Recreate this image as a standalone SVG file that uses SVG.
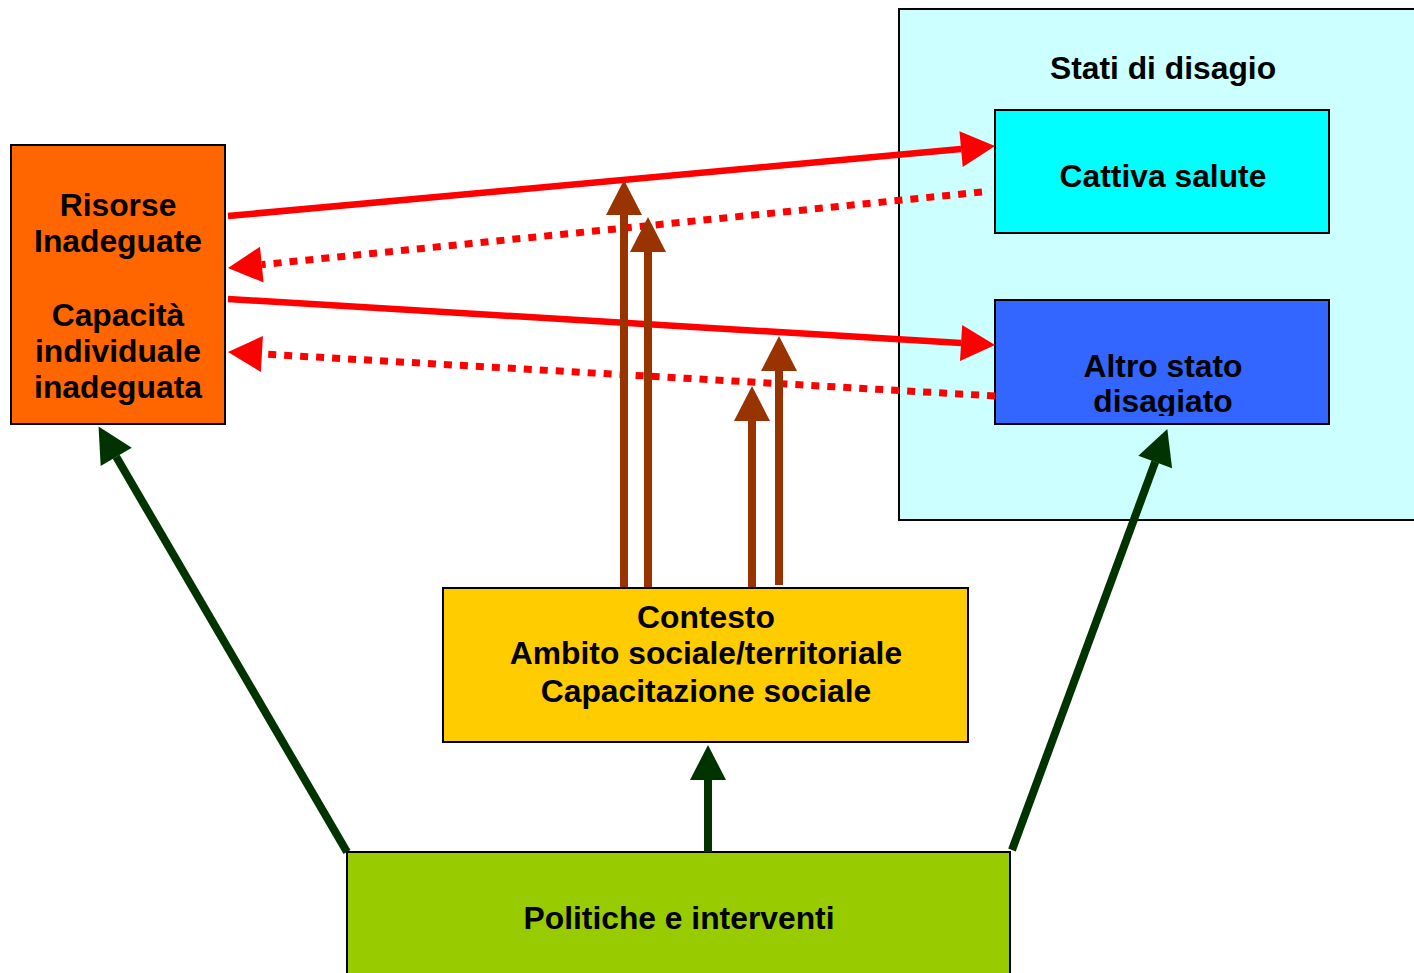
<svg xmlns="http://www.w3.org/2000/svg" width="1414" height="973" viewBox="0 0 1414 973">
<style>
.t{font-family:"Liberation Sans",Arial,sans-serif;font-weight:bold;font-size:31.8px;fill:#000;text-anchor:middle}
.box{stroke:#000;stroke-width:2}
.red{stroke:#FF0000;stroke-width:6.5;fill:none}
.dot{stroke:#FF0000;stroke-width:7;fill:none;stroke-dasharray:8 8}
.brown{stroke:#993300;stroke-width:8;fill:none}
.green{stroke:#003300;stroke-width:8;fill:none}
</style>
<defs>
<marker id="hr" markerUnits="userSpaceOnUse" orient="auto" refX="0" refY="0" markerWidth="40" markerHeight="40" overflow="visible"><path d="M0,-18 L34,0 L0,18 Z" fill="#FF0000"/></marker>
<marker id="hb" markerUnits="userSpaceOnUse" orient="auto" refX="0" refY="0" markerWidth="40" markerHeight="40" overflow="visible"><path d="M0,-18 L35,0 L0,18 Z" fill="#993300"/></marker>
<marker id="hg" markerUnits="userSpaceOnUse" orient="auto" refX="0" refY="0" markerWidth="40" markerHeight="40" overflow="visible"><path d="M0,-18 L35,0 L0,18 Z" fill="#003300"/></marker>
<clipPath id="clipAltro"><rect x="995" y="300" width="334" height="116"/></clipPath>
</defs>
<rect width="1414" height="973" fill="#FFFFFF"/>

<g id="stati-di-disagio">
<rect class="box" x="899" y="9" width="520" height="511" fill="#CCFFFF"/>
<text class="t" x="1163" y="79">Stati di disagio</text>
</g>
<g id="cattiva-salute">
<rect class="box" x="995" y="110" width="334" height="123" fill="#00FFFF"/>
<text class="t" x="1163" y="187">Cattiva salute</text>
</g>
<g id="altro-stato">
<rect class="box" x="995" y="300" width="334" height="124" fill="#3366FF"/>
<g clip-path="url(#clipAltro)">
<text class="t" x="1163" y="377">Altro stato</text>
<text class="t" x="1163" y="412">disagiato</text>
</g>
</g>
<g id="risorse">
<rect class="box" x="11" y="145" width="214" height="279" fill="#FF6600"/>
<text class="t" x="118" y="216">Risorse</text>
<text class="t" x="118" y="252">Inadeguate</text>
<text class="t" x="118" y="326">Capacità</text>
<text class="t" x="118" y="362">individuale</text>
<text class="t" x="118" y="398">inadeguata</text>
</g>
<g id="contesto">
<rect class="box" x="443" y="588" width="525" height="154" fill="#FFCC00"/>
<text class="t" x="706" y="628">Contesto</text>
<text class="t" x="706" y="664">Ambito sociale/territoriale</text>
<text class="t" x="706" y="702">Capacitazione sociale</text>
</g>
<g id="politiche">
<rect class="box" x="347" y="852" width="663" height="130" fill="#99CC00"/>
<text class="t" x="679" y="929">Politiche e interventi</text>
</g>

<g id="connectors">
<line class="red" x1="228" y1="216" x2="961.1" y2="149.1" marker-end="url(#hr)"/>
<line class="dot" x1="982" y1="192" x2="261.8" y2="264.6" marker-end="url(#hr)"/>
<line class="red" x1="228" y1="299" x2="961.1" y2="343" marker-end="url(#hr)"/>
<line class="dot" x1="995" y1="396" x2="261.9" y2="354" marker-end="url(#hr)"/>
<line class="brown" x1="624" y1="587" x2="624" y2="215" marker-end="url(#hb)"/>
<line class="brown" x1="648" y1="587" x2="648" y2="252" marker-end="url(#hb)"/>
<line class="brown" x1="752" y1="587" x2="752" y2="421" marker-end="url(#hb)"/>
<line class="brown" x1="779" y1="585" x2="779" y2="371" marker-end="url(#hb)"/>
<line class="green" stroke-width="7" x1="347" y1="852" x2="116.2" y2="456.8" marker-end="url(#hg)"/>
<line class="green" stroke-width="7" x1="1012" y1="850" x2="1155.2" y2="461.9" marker-end="url(#hg)"/>
<line class="green" stroke-width="9" x1="708" y1="852" x2="708" y2="780" marker-end="url(#hg)"/>
</g>
</svg>
